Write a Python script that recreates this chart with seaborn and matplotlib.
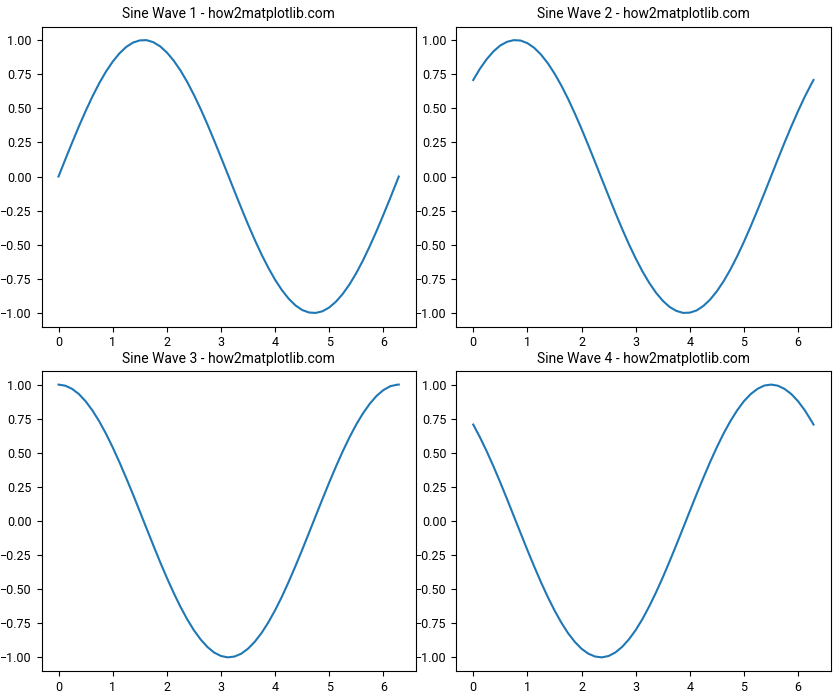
import matplotlib
matplotlib.use("Agg")
import matplotlib.pyplot as plt
import seaborn as sns
import pandas as pd

plt.rcParams['font.family'] = ['Roboto', 'DejaVu Sans']
plt.rcParams['font.size'] = 9

x_vals = [0, 0.125, 0.25, 0.375, 0.5, 0.625, 0.75, 0.875, 1.0, 1.125, 1.25, 1.375,
          1.5, 1.625, 1.75, 1.875, 2.0, 2.125, 2.25, 2.375, 2.5, 2.625, 2.75, 2.875,
          3.0, 3.125, 3.25, 3.375, 3.5, 3.625, 3.75, 3.875, 4.0, 4.125, 4.25, 4.375,
          4.5, 4.625, 4.75, 4.875, 5.0, 5.125, 5.25, 5.375, 5.5, 5.625, 5.75, 5.875,
          6.0, 6.125, 6.25, 6.283]

wave1 = [0.0, 0.125, 0.247, 0.366, 0.479, 0.585, 0.682, 0.768, 0.841, 0.902, 0.949,
         0.981, 0.997, 0.999, 0.984, 0.954, 0.909, 0.850, 0.778, 0.694, 0.598, 0.494,
         0.382, 0.263, 0.141, 0.017, -0.108, -0.231, -0.351, -0.465, -0.572, -0.669,
         -0.757, -0.832, -0.895, -0.944, -0.978, -0.996, -0.999, -0.987, -0.959,
         -0.916, -0.859, -0.789, -0.706, -0.612, -0.508, -0.397, -0.279, -0.158,
         -0.033, 0.0]
wave2 = [0.707, 0.790, 0.860, 0.917, 0.960, 0.987, 0.999, 0.996, 0.977, 0.943, 0.894,
         0.831, 0.755, 0.668, 0.570, 0.463, 0.349, 0.229, 0.106, -0.019, -0.143,
         -0.266, -0.384, -0.496, -0.600, -0.695, -0.779, -0.851, -0.910, -0.955,
         -0.984, -0.999, -0.997, -0.981, -0.948, -0.901, -0.840, -0.766, -0.680,
         -0.583, -0.477, -0.364, -0.245, -0.123, 0.002, 0.127, 0.250, 0.368, 0.481,
         0.587, 0.683, 0.707]
wave3 = [1.0, 0.992, 0.969, 0.931, 0.878, 0.811, 0.732, 0.641, 0.540, 0.431, 0.315,
         0.195, 0.071, -0.054, -0.178, -0.300, -0.416, -0.526, -0.628, -0.720,
         -0.801, -0.869, -0.924, -0.965, -0.990, -1.0, -0.994, -0.973, -0.936,
         -0.885, -0.821, -0.743, -0.654, -0.555, -0.446, -0.331, -0.211, -0.087,
         0.038, 0.162, 0.284, 0.401, 0.512, 0.615, 0.709, 0.791, 0.861, 0.918, 0.960,
         0.988, 0.999, 1.0]
wave4 = [0.707, 0.613, 0.510, 0.399, 0.282, 0.160, 0.035, -0.089, -0.213, -0.333,
         -0.448, -0.556, -0.655, -0.744, -0.822, -0.886, -0.937, -0.973, -0.994,
         -1.0, -0.990, -0.964, -0.923, -0.868, -0.800, -0.719, -0.626, -0.524,
         -0.414, -0.297, -0.176, -0.052, 0.073, 0.197, 0.317, 0.433, 0.542, 0.643,
         0.733, 0.812, 0.879, 0.931, 0.969, 0.993, 1.0, 0.992, 0.968, 0.930, 0.877,
         0.810, 0.730, 0.707]

titles = ["Sine Wave 1 - how2matplotlib.com", "Sine Wave 2 - how2matplotlib.com",
          "Sine Wave 3 - how2matplotlib.com", "Sine Wave 4 - how2matplotlib.com"]
waves = [wave1, wave2, wave3, wave4]

fig, axes = plt.subplots(2, 2, figsize=(8.4, 7), dpi=100)
fig.subplots_adjust(left=41.5 / 840, right=830.5 / 840, top=1 - 26.5 / 700,
                    bottom=1 - 671 / 700, wspace=0.108, hspace=0.148)
for ax, w, t in zip(axes.flat, waves, titles):
    df = pd.DataFrame({"x": x_vals, "y": w})
    sns.lineplot(data=df, x="x", y="y", ax=ax, color="#1f77b4", linewidth=1.5)
    ax.set_title(t, fontsize=10)
    ax.set_xlabel("")
    ax.set_ylabel("")
    ax.set_yticks([-1.0, -0.75, -0.5, -0.25, 0.0, 0.25, 0.5, 0.75, 1.0])
    ax.set_xticks([0, 1, 2, 3, 4, 5, 6])

fig.savefig("out.png", dpi=100)
